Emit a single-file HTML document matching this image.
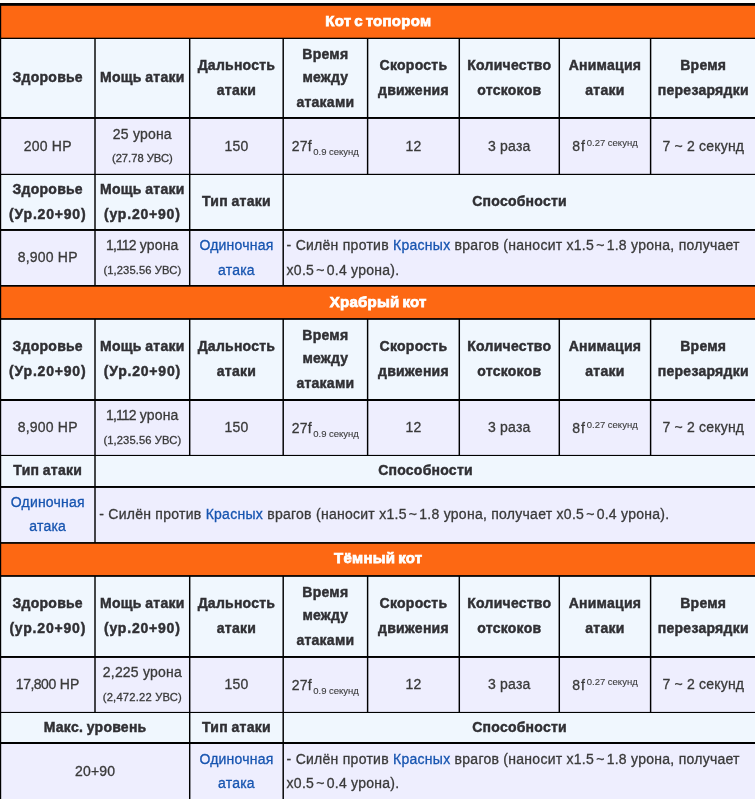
<!DOCTYPE html>
<html lang="ru"><head><meta charset="utf-8"><title>Кот с топором</title>
<style>
html,body{margin:0;padding:0;background:#fefdfa;}
body{width:755px;height:799px;overflow:hidden;position:relative;font-family:"Liberation Sans",sans-serif;font-size:14px;line-height:24.5px;color:#3a3a3a;}
#grid{position:absolute;left:0;top:0;width:755px;height:799px;display:block;}
.c{position:absolute;box-sizing:border-box;display:flex;align-items:center;justify-content:center;text-align:center;padding:0 5px;}
.c.l{justify-content:flex-start;text-align:left;padding:0 2px 0 3.4px;}
.c>span{display:block;}
.d{letter-spacing:0.2px;-webkit-text-stroke:0.3px #3a3a3a;}
.t{color:#fff;font-weight:bold;font-size:15px;-webkit-text-stroke:0.75px #fff;letter-spacing:0.25px;word-spacing:-1.5px;}
.t>span{position:relative;top:-0.4px;}
.h{font-weight:bold;letter-spacing:0.25px;word-spacing:-0.5px;color:#303034;-webkit-text-stroke:0.45px #303034;}
a{color:#1755b0;text-decoration:none;-webkit-text-stroke-color:#1755b0;}
small{font-size:11.2px;letter-spacing:0;line-height:1;position:relative;top:-0.6px;}
i{font-style:normal;position:relative;top:1px;}
sub{font-size:9.5px;vertical-align:baseline;position:relative;top:4.1px;line-height:1;letter-spacing:0;margin-left:1.3px;-webkit-text-stroke-width:0.1px;}
sup{font-size:9.5px;vertical-align:baseline;position:relative;top:-5.0px;line-height:1;letter-spacing:0;margin-left:1px;-webkit-text-stroke-width:0.1px;}
u{text-decoration:none;position:relative;top:0.5px;}
b{font-weight:normal;letter-spacing:0.9px;}
.d>span{position:relative;top:-0.1px;}
.h>span{position:relative;top:-0.5px;}
.w{letter-spacing:0.8px;}
.ab{letter-spacing:0.265px;}
.ab2{margin-left:0.8px;}
.tl{word-spacing:-2.1px;}
.n1{letter-spacing:-0.9px;}
.n2{letter-spacing:-0.5px;}
</style></head>
<body>
<svg id="grid" width="755" height="799" viewBox="0 0 755 799">
<rect x="0" y="3.0" width="755" height="799" fill="#000000"/>
<rect x="1.2" y="5.8" width="754.07" height="31.9" fill="#fd6813"/>
<rect x="1.2" y="39" width="93.08" height="78" fill="#f0f7fe"/>
<rect x="95.72" y="39" width="93.25" height="78" fill="#f0f7fe"/>
<rect x="190.42" y="39" width="92.05" height="78" fill="#f0f7fe"/>
<rect x="283.93" y="39" width="82.95" height="78" fill="#f0f7fe"/>
<rect x="368.33" y="39" width="90.25" height="78" fill="#f0f7fe"/>
<rect x="460.03" y="39" width="98.55" height="78" fill="#f0f7fe"/>
<rect x="560.02" y="39" width="89.85" height="78" fill="#f0f7fe"/>
<rect x="651.33" y="39" width="103.95" height="78" fill="#f0f7fe"/>
<rect x="1.2" y="118.95" width="93.08" height="54.85" fill="#eeeefe"/>
<rect x="95.72" y="118.95" width="93.25" height="54.85" fill="#eeeefe"/>
<rect x="190.42" y="118.95" width="92.05" height="54.85" fill="#eeeefe"/>
<rect x="283.93" y="118.95" width="82.95" height="54.85" fill="#eeeefe"/>
<rect x="368.33" y="118.95" width="90.25" height="54.85" fill="#eeeefe"/>
<rect x="460.03" y="118.95" width="98.55" height="54.85" fill="#eeeefe"/>
<rect x="560.02" y="118.95" width="89.85" height="54.85" fill="#eeeefe"/>
<rect x="651.33" y="118.95" width="103.95" height="54.85" fill="#eeeefe"/>
<rect x="1.2" y="175" width="93.08" height="54" fill="#f0f7fe"/>
<rect x="95.72" y="175" width="93.25" height="54" fill="#f0f7fe"/>
<rect x="190.42" y="175" width="92.05" height="54" fill="#f0f7fe"/>
<rect x="283.93" y="175" width="471.35" height="54" fill="#f0f7fe"/>
<rect x="1.2" y="230.95" width="93.08" height="54.05" fill="#eeeefe"/>
<rect x="95.72" y="230.95" width="93.25" height="54.05" fill="#eeeefe"/>
<rect x="190.42" y="230.95" width="92.05" height="54.05" fill="#eeeefe"/>
<rect x="283.93" y="230.95" width="471.35" height="54.05" fill="#eeeefe"/>
<rect x="1.2" y="286.7" width="754.07" height="31.4" fill="#fd6813"/>
<rect x="1.2" y="319.85" width="93.08" height="79.15" fill="#f0f7fe"/>
<rect x="95.72" y="319.85" width="93.25" height="79.15" fill="#f0f7fe"/>
<rect x="190.42" y="319.85" width="92.05" height="79.15" fill="#f0f7fe"/>
<rect x="283.93" y="319.85" width="82.95" height="79.15" fill="#f0f7fe"/>
<rect x="368.33" y="319.85" width="90.25" height="79.15" fill="#f0f7fe"/>
<rect x="460.03" y="319.85" width="98.55" height="79.15" fill="#f0f7fe"/>
<rect x="560.02" y="319.85" width="89.85" height="79.15" fill="#f0f7fe"/>
<rect x="651.33" y="319.85" width="103.95" height="79.15" fill="#f0f7fe"/>
<rect x="1.2" y="401" width="93.08" height="53.9" fill="#eeeefe"/>
<rect x="95.72" y="401" width="93.25" height="53.9" fill="#eeeefe"/>
<rect x="190.42" y="401" width="92.05" height="53.9" fill="#eeeefe"/>
<rect x="283.93" y="401" width="82.95" height="53.9" fill="#eeeefe"/>
<rect x="368.33" y="401" width="90.25" height="53.9" fill="#eeeefe"/>
<rect x="460.03" y="401" width="98.55" height="53.9" fill="#eeeefe"/>
<rect x="560.02" y="401" width="89.85" height="53.9" fill="#eeeefe"/>
<rect x="651.33" y="401" width="103.95" height="53.9" fill="#eeeefe"/>
<rect x="1.2" y="456" width="93.08" height="30" fill="#f0f7fe"/>
<rect x="95.72" y="456" width="659.55" height="30" fill="#f0f7fe"/>
<rect x="1.2" y="487.95" width="93.08" height="54.1" fill="#eeeefe"/>
<rect x="95.72" y="487.95" width="659.55" height="54.1" fill="#eeeefe"/>
<rect x="1.2" y="543.8" width="754.07" height="31.3" fill="#fd6813"/>
<rect x="1.2" y="576.85" width="93.08" height="79.15" fill="#f0f7fe"/>
<rect x="95.72" y="576.85" width="93.25" height="79.15" fill="#f0f7fe"/>
<rect x="190.42" y="576.85" width="92.05" height="79.15" fill="#f0f7fe"/>
<rect x="283.93" y="576.85" width="82.95" height="79.15" fill="#f0f7fe"/>
<rect x="368.33" y="576.85" width="90.25" height="79.15" fill="#f0f7fe"/>
<rect x="460.03" y="576.85" width="98.55" height="79.15" fill="#f0f7fe"/>
<rect x="560.02" y="576.85" width="89.85" height="79.15" fill="#f0f7fe"/>
<rect x="651.33" y="576.85" width="103.95" height="79.15" fill="#f0f7fe"/>
<rect x="1.2" y="657.95" width="93.08" height="53.95" fill="#eeeefe"/>
<rect x="95.72" y="657.95" width="93.25" height="53.95" fill="#eeeefe"/>
<rect x="190.42" y="657.95" width="92.05" height="53.95" fill="#eeeefe"/>
<rect x="283.93" y="657.95" width="82.95" height="53.95" fill="#eeeefe"/>
<rect x="368.33" y="657.95" width="90.25" height="53.95" fill="#eeeefe"/>
<rect x="460.03" y="657.95" width="98.55" height="53.95" fill="#eeeefe"/>
<rect x="560.02" y="657.95" width="89.85" height="53.95" fill="#eeeefe"/>
<rect x="651.33" y="657.95" width="103.95" height="53.95" fill="#eeeefe"/>
<rect x="1.2" y="713" width="187.78" height="29" fill="#f0f7fe"/>
<rect x="190.42" y="713" width="92.05" height="29" fill="#f0f7fe"/>
<rect x="283.93" y="713" width="471.35" height="29" fill="#f0f7fe"/>
<rect x="1.2" y="744" width="187.78" height="55.5" fill="#eeeefe"/>
<rect x="190.42" y="744" width="92.05" height="55.5" fill="#eeeefe"/>
<rect x="283.93" y="744" width="471.35" height="55.5" fill="#eeeefe"/>
</svg>
<div class="c t" style="left:0.5px;top:5.8px;width:755.5px;height:32.45px"><span>Кот с топором</span></div>
<div class="c h" style="left:0.5px;top:38.25px;width:94.5px;height:79.7px"><span>Здоровье</span></div>
<div class="c h" style="left:95px;top:38.25px;width:94.7px;height:79.7px"><span>Мощь атаки</span></div>
<div class="c h" style="left:189.7px;top:38.25px;width:93.5px;height:79.7px"><span>Дальность<br>атаки</span></div>
<div class="c h" style="left:283.2px;top:38.25px;width:84.4px;height:79.7px"><span><i>Время</i><br>между<br>атаками</span></div>
<div class="c h" style="left:367.6px;top:38.25px;width:91.7px;height:79.7px"><span>Скорость<br>движения</span></div>
<div class="c h" style="left:459.3px;top:38.25px;width:100px;height:79.7px"><span>Количество<br>отскоков</span></div>
<div class="c h" style="left:559.3px;top:38.25px;width:91.3px;height:79.7px"><span>Анимация<br>атаки</span></div>
<div class="c h" style="left:650.6px;top:38.25px;width:105.4px;height:79.7px"><span>Время<br>перезарядки</span></div>
<div class="c d" style="left:0.5px;top:117.95px;width:94.5px;height:56.45px"><span>200 HP</span></div>
<div class="c d" style="left:95px;top:117.95px;width:94.7px;height:56.45px"><span>25 урона<br><small>(27.78 УВС)</small></span></div>
<div class="c d" style="left:189.7px;top:117.95px;width:93.5px;height:56.45px"><span>150</span></div>
<div class="c d" style="left:283.2px;top:117.95px;width:84.4px;height:56.45px"><span><u>27f<sub>0.9 секунд</sub></u></span></div>
<div class="c d" style="left:367.6px;top:117.95px;width:91.7px;height:56.45px"><span>12</span></div>
<div class="c d" style="left:459.3px;top:117.95px;width:100px;height:56.45px"><span>3 раза</span></div>
<div class="c d" style="left:559.3px;top:117.95px;width:91.3px;height:56.45px"><span><u><b>8f</b><sup>0.27 секунд</sup></u></span></div>
<div class="c d" style="left:650.6px;top:117.95px;width:105.4px;height:56.45px"><span>7 ~ 2 секунд</span></div>
<div class="c h" style="left:0.5px;top:174.4px;width:94.5px;height:55.55px"><span>Здоровье<br><span class="w">(Ур.20+90)</span></span></div>
<div class="c h" style="left:95px;top:174.4px;width:94.7px;height:55.55px"><span>Мощь атаки<br><span class="w">(ур.20+90)</span></span></div>
<div class="c h" style="left:189.7px;top:174.4px;width:93.5px;height:55.55px"><span>Тип атаки</span></div>
<div class="c h" style="left:283.2px;top:174.4px;width:472.8px;height:55.55px"><span>Способности</span></div>
<div class="c d" style="left:0.5px;top:229.95px;width:94.5px;height:55.75px"><span>8,900 HP</span></div>
<div class="c d" style="left:95px;top:229.95px;width:94.7px;height:55.75px"><span><span class="n1">1,112</span> урона<br><small style="letter-spacing:0.11px">(1,235.56 УВС)</small></span></div>
<div class="c d" style="left:189.7px;top:229.95px;width:93.5px;height:55.75px"><span><a>Одиночная<br>атака</a></span></div>
<div class="c d l" style="left:283.2px;top:229.95px;width:472.8px;height:55.75px"><span><span class="ab">- Силён против <a>Красных</a> врагов (наносит x1.5<span class="tl"> ~ </span>1.8 урона, получает x0.5<span class="tl"> ~ </span>0.4 урона).</span></span></div>
<div class="c t" style="left:0.5px;top:285.7px;width:755.5px;height:33.1px"><span>Храбрый кот</span></div>
<div class="c h" style="left:0.5px;top:318.8px;width:94.5px;height:80.8px"><span>Здоровье<br><span class="w">(Ур.20+90)</span></span></div>
<div class="c h" style="left:95px;top:318.8px;width:94.7px;height:80.8px"><span>Мощь атаки<br><span class="w">(Ур.20+90)</span></span></div>
<div class="c h" style="left:189.7px;top:318.8px;width:93.5px;height:80.8px"><span>Дальность<br>атаки</span></div>
<div class="c h" style="left:283.2px;top:318.8px;width:84.4px;height:80.8px"><span><i>Время</i><br>между<br>атаками</span></div>
<div class="c h" style="left:367.6px;top:318.8px;width:91.7px;height:80.8px"><span>Скорость<br>движения</span></div>
<div class="c h" style="left:459.3px;top:318.8px;width:100px;height:80.8px"><span>Количество<br>отскоков</span></div>
<div class="c h" style="left:559.3px;top:318.8px;width:91.3px;height:80.8px"><span>Анимация<br>атаки</span></div>
<div class="c h" style="left:650.6px;top:318.8px;width:105.4px;height:80.8px"><span>Время<br>перезарядки</span></div>
<div class="c d" style="left:0.5px;top:399.6px;width:94.5px;height:55.7px"><span>8,900 HP</span></div>
<div class="c d" style="left:95px;top:399.6px;width:94.7px;height:55.7px"><span><span class="n1">1,112</span> урона<br><small style="letter-spacing:0.11px">(1,235.56 УВС)</small></span></div>
<div class="c d" style="left:189.7px;top:399.6px;width:93.5px;height:55.7px"><span>150</span></div>
<div class="c d" style="left:283.2px;top:399.6px;width:84.4px;height:55.7px"><span><u>27f<sub>0.9 секунд</sub></u></span></div>
<div class="c d" style="left:367.6px;top:399.6px;width:91.7px;height:55.7px"><span>12</span></div>
<div class="c d" style="left:459.3px;top:399.6px;width:100px;height:55.7px"><span>3 раза</span></div>
<div class="c d" style="left:559.3px;top:399.6px;width:91.3px;height:55.7px"><span><u><b>8f</b><sup>0.27 секунд</sup></u></span></div>
<div class="c d" style="left:650.6px;top:399.6px;width:105.4px;height:55.7px"><span>7 ~ 2 секунд</span></div>
<div class="c h" style="left:0.5px;top:455.3px;width:94.5px;height:31.1px"><span>Тип атаки</span></div>
<div class="c h" style="left:95px;top:455.3px;width:661px;height:31.1px"><span>Способности</span></div>
<div class="c d" style="left:0.5px;top:486.4px;width:94.5px;height:56.1px"><span><a>Одиночная<br>атака</a></span></div>
<div class="c d l" style="left:95px;top:486.4px;width:661px;height:56.1px"><span><span class="ab2"><span class="ab">- Силён против <a>Красных</a> врагов (наносит x1.5<span class="tl"> ~ </span>1.8 урона, получает x0.5<span class="tl"> ~ </span>0.4 урона).</span></span></span></div>
<div class="c t" style="left:0.5px;top:542.5px;width:755.5px;height:33.2px"><span>Тёмный кот</span></div>
<div class="c h" style="left:0.5px;top:575.7px;width:94.5px;height:80.8px"><span>Здоровье<br><span class="w">(ур.20+90)</span></span></div>
<div class="c h" style="left:95px;top:575.7px;width:94.7px;height:80.8px"><span>Мощь атаки<br><span class="w">(ур.20+90)</span></span></div>
<div class="c h" style="left:189.7px;top:575.7px;width:93.5px;height:80.8px"><span>Дальность<br>атаки</span></div>
<div class="c h" style="left:283.2px;top:575.7px;width:84.4px;height:80.8px"><span><i>Время</i><br>между<br>атаками</span></div>
<div class="c h" style="left:367.6px;top:575.7px;width:91.7px;height:80.8px"><span>Скорость<br>движения</span></div>
<div class="c h" style="left:459.3px;top:575.7px;width:100px;height:80.8px"><span>Количество<br>отскоков</span></div>
<div class="c h" style="left:559.3px;top:575.7px;width:91.3px;height:80.8px"><span>Анимация<br>атаки</span></div>
<div class="c h" style="left:650.6px;top:575.7px;width:105.4px;height:80.8px"><span>Время<br>перезарядки</span></div>
<div class="c d" style="left:0.5px;top:656.5px;width:94.5px;height:55.8px"><span><span class="n2">17,800</span> HP</span></div>
<div class="c d" style="left:95px;top:656.5px;width:94.7px;height:55.8px"><span>2,225 урона<br><small style="letter-spacing:0.2px">(2,472.22 УВС)</small></span></div>
<div class="c d" style="left:189.7px;top:656.5px;width:93.5px;height:55.8px"><span>150</span></div>
<div class="c d" style="left:283.2px;top:656.5px;width:84.4px;height:55.8px"><span><u>27f<sub>0.9 секунд</sub></u></span></div>
<div class="c d" style="left:367.6px;top:656.5px;width:91.7px;height:55.8px"><span>12</span></div>
<div class="c d" style="left:459.3px;top:656.5px;width:100px;height:55.8px"><span>3 раза</span></div>
<div class="c d" style="left:559.3px;top:656.5px;width:91.3px;height:55.8px"><span><u><b>8f</b><sup>0.27 секунд</sup></u></span></div>
<div class="c d" style="left:650.6px;top:656.5px;width:105.4px;height:55.8px"><span>7 ~ 2 секунд</span></div>
<div class="c h" style="left:0.5px;top:712.3px;width:189.2px;height:30.6px"><span>Макс. уровень</span></div>
<div class="c h" style="left:189.7px;top:712.3px;width:93.5px;height:30.6px"><span>Тип атаки</span></div>
<div class="c h" style="left:283.2px;top:712.3px;width:472.8px;height:30.6px"><span>Способности</span></div>
<div class="c d" style="left:0.5px;top:742.9px;width:189.2px;height:57.1px"><span>20+90</span></div>
<div class="c d" style="left:189.7px;top:742.9px;width:93.5px;height:57.1px"><span><a>Одиночная<br>атака</a></span></div>
<div class="c d l" style="left:283.2px;top:742.9px;width:472.8px;height:57.1px"><span><span class="ab">- Силён против <a>Красных</a> врагов (наносит x1.5<span class="tl"> ~ </span>1.8 урона, получает x0.5<span class="tl"> ~ </span>0.4 урона).</span></span></div>
</body></html>
